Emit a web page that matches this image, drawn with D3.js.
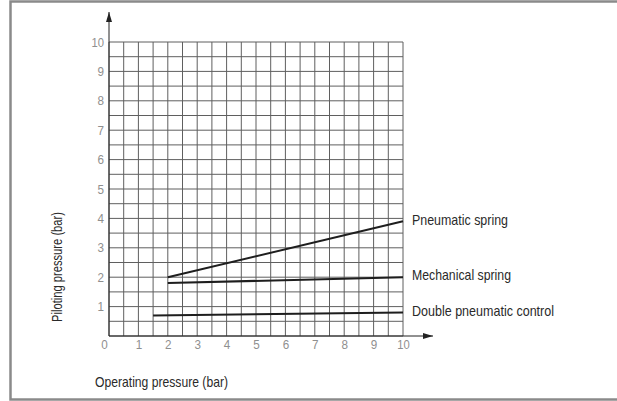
<!DOCTYPE html>
<html>
<head>
<meta charset="utf-8">
<script src="https://cdn.jsdelivr.net/npm/d3@7"></script>
<style>
    body { margin: 0; background: #fff; }
    svg { display: block; }
    text { font-family: "Liberation Sans", Arial, sans-serif; }
</style>
</head>
<body>
<div id="chart"></div>
<script>
// operating pressure ticks / piloting pressure ticks
const xTicks = [0, 1, 2, 3, 4, 5, 6, 7, 8, 9, 10];
const yTicks = [1, 2, 3, 4, 5, 6, 7, 8, 9, 10];
const gridSteps = d3.range(0, 10.01, 0.5);

// series: [operating pressure, piloting pressure]
const seriesNames = ["Pneumatic spring", "Mechanical spring", "Double pneumatic control"];
const pneumaticSpring = [[2, 2.0], [10, 3.9]];
const mechanicalSpring = [[2, 1.8], [10, 2.0]];
const doublePneumatic = [[1.5, 0.7], [10, 0.8]];
const labelWidths = [96, 99, 142];

const width = 617, height = 401;

const svg = d3.select("#chart")
    .append("svg")
    .attr("width", width)
    .attr("height", height);

const xScale = d3.scaleLinear().domain([0, 10]).range([109, 403]);
const yScale = d3.scaleLinear().domain([0, 10]).range([336, 42]);

// frame (left, top, bottom only)
svg.append("path")
    .attr("d", "M" + width + ",1.5 H10.5 V399.5 H" + width)
    .attr("fill", "none")
    .attr("stroke", "#8a8a8a")
    .attr("stroke-width", 2.5);

const defs = svg.append("defs");
defs.append("marker")
    .attr("id", "arrow")
    .attr("viewBox", "0 0 10 6")
    .attr("refX", 10)
    .attr("refY", 3)
    .attr("markerWidth", 10)
    .attr("markerHeight", 6)
    .attr("markerUnits", "userSpaceOnUse")
    .attr("orient", "auto")
    .append("path")
    .attr("d", "M0,0 L10,3 L0,6 Z")
    .attr("fill", "#222");

// grid
const grid = svg.append("g").attr("class", "grid");

grid.selectAll("line.v")
    .data(gridSteps)
    .enter()
    .append("line")
    .attr("class", "v")
    .attr("x1", d => xScale(d))
    .attr("x2", d => xScale(d))
    .attr("y1", yScale(0))
    .attr("y2", yScale(10))
    .attr("stroke", "#5f5f5f")
    .attr("stroke-width", 1);

grid.selectAll("line.h")
    .data(gridSteps)
    .enter()
    .append("line")
    .attr("class", "h")
    .attr("x1", xScale(0))
    .attr("x2", xScale(10))
    .attr("y1", d => yScale(d))
    .attr("y2", d => yScale(d))
    .attr("stroke", "#5f5f5f")
    .attr("stroke-width", 1);

// axes lines with arrows
svg.append("line")
    .attr("x1", xScale(0))
    .attr("x2", xScale(10) + 30)
    .attr("y1", yScale(0))
    .attr("y2", yScale(0))
    .attr("stroke", "#222")
    .attr("stroke-width", 1)
    .attr("marker-end", "url(#arrow)");

svg.append("line")
    .attr("x1", xScale(0))
    .attr("x2", xScale(0))
    .attr("y1", yScale(0))
    .attr("y2", yScale(10) - 30)
    .attr("stroke", "#222")
    .attr("stroke-width", 1)
    .attr("marker-end", "url(#arrow)");

// tick labels
const xAxis = svg.append("g")
    .attr("transform", "translate(0," + yScale(0) + ")")
    .call(d3.axisBottom(xScale).tickValues(xTicks).tickSize(0).tickPadding(4));

xAxis.select(".domain").remove();
xAxis.selectAll("text")
    .attr("font-size", 13)
    .attr("fill", "#8f8f8f")
    .attr("dx", d => d === 0 ? -5 : 0);

const yAxis = svg.append("g")
    .attr("transform", "translate(" + xScale(0) + ",0)")
    .call(d3.axisLeft(yScale).tickValues(yTicks).tickSize(0).tickPadding(5));

yAxis.select(".domain").remove();
yAxis.selectAll("text")
    .attr("font-size", 13)
    .attr("fill", "#8f8f8f");

svg.selectAll(".tick text")
    .attr("font-family", "Liberation Sans, Arial, sans-serif")
    .attr("textLength", d => d >= 10 ? 12.5 : 6.5)
    .attr("lengthAdjust", "spacingAndGlyphs");

// series lines
const series = [pneumaticSpring, mechanicalSpring, doublePneumatic];

const line = d3.line()
    .x(d => xScale(d[0]))
    .y(d => yScale(d[1]));

svg.append("g")
    .selectAll("path")
    .data(series)
    .enter()
    .append("path")
    .attr("d", line)
    .attr("fill", "none")
    .attr("stroke", "#1e1e1e")
    .attr("stroke-width", 2);

// series labels
svg.append("g")
    .selectAll("text")
    .data(series)
    .enter()
    .append("text")
    .attr("x", xScale(10) + 9)
    .attr("y", d => yScale(d[d.length - 1][1]) - 2)
    .attr("dy", "0.35em")
    .attr("font-size", 15)
    .attr("fill", "#2a2a2a")
    .attr("textLength", (d, i) => labelWidths[i])
    .attr("lengthAdjust", "spacingAndGlyphs")
    .text((d, i) => seriesNames[i]);

// axis titles
svg.append("text")
    .attr("x", 95)
    .attr("y", 387)
    .attr("font-size", 15)
    .attr("fill", "#2a2a2a")
    .attr("textLength", 133)
    .attr("lengthAdjust", "spacingAndGlyphs")
    .text("Operating pressure (bar)");

svg.append("text")
    .attr("transform", "translate(62,267) rotate(-90)")
    .attr("text-anchor", "middle")
    .attr("font-size", 15)
    .attr("fill", "#2a2a2a")
    .attr("textLength", 110)
    .attr("lengthAdjust", "spacingAndGlyphs")
    .text("Piloting pressure (bar)");
</script>
</body>
</html>
